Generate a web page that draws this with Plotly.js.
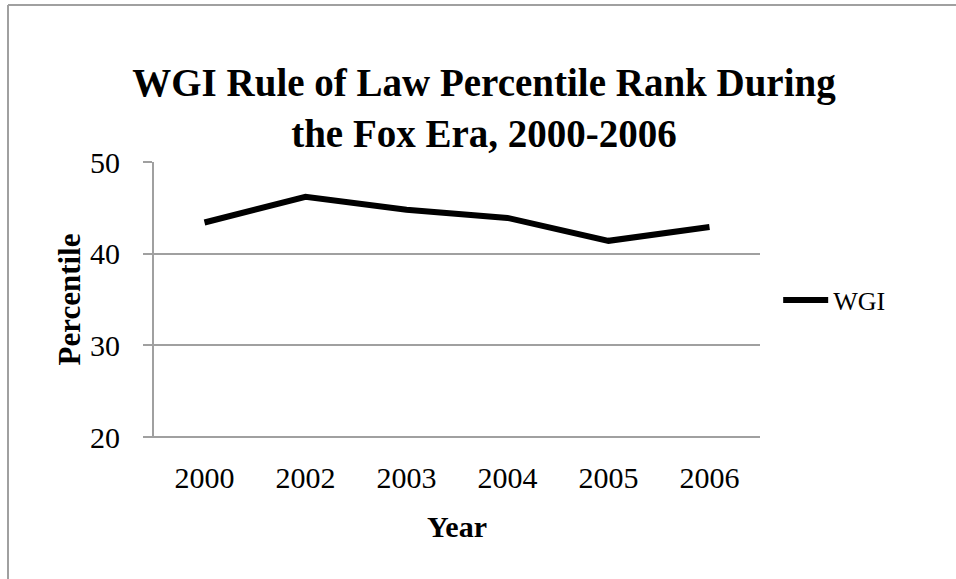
<!DOCTYPE html>
<html>
<head>
<meta charset="utf-8">
<script src="https://cdn.plot.ly/plotly-3.0.1.min.js"></script>
<style>
  html, body { margin: 0; padding: 0; background: #fff; }
  #chart { width: 956px; height: 579px; }
</style>
</head>
<body>
<div id="chart"></div>
<script>
// Data
const years = ["2000", "2002", "2003", "2004", "2005", "2006"];
const wgiValues = [43.4, 46.2, 44.8, 43.9, 41.4, 42.9];
const seriesName = "WGI";
const yTicks = [20, 30, 40, 50];

const serif = "Liberation Serif";
const grey = "#a0a0a0";

const L = 154, R = 196, T = 162, B = 142;
const pw = 956 - L - R, ph = 579 - T - B;
const px = v => (v - L) / pw;
const py = v => (579 - B - v) / ph;

const trace = {
  x: years,
  y: wgiValues,
  type: "scatter",
  mode: "lines",
  name: seriesName,
  line: { color: "#000000", width: 6 }
};

const layout = {
  width: 956,
  height: 579,
  margin: { l: L, r: R, t: T, b: B, pad: 0 },
  paper_bgcolor: "#ffffff",
  plot_bgcolor: "#ffffff",
  font: { family: serif, color: "#000000", size: 26 },
  title: {
    text: "WGI Rule of Law Percentile Rank During<br>the Fox Era, 2000-2006",
    font: { family: serif, size: 39, color: "#000000", weight: "bold" },
    xref: "container", x: 484 / 956, xanchor: "center",
    yref: "container", y: 1 - 96 / 579, yanchor: "middle"
  },
  xaxis: {
    type: "category",
    range: [-0.5, 5.5],
    showgrid: false,
    zeroline: false,
    showline: false,
    ticks: "",
    tickfont: { family: serif, size: 30, color: "#000" },
    ticklabelstandoff: 20,
    title: { text: "Year", font: { family: serif, size: 30, color: "#000", weight: "bold" }, standoff: 22 },
    fixedrange: true
  },
  yaxis: {
    range: [20, 50],
    tickvals: yTicks,
    showgrid: true,
    gridcolor: grey,
    gridwidth: 2,
    zeroline: false,
    showline: true,
    linecolor: grey,
    linewidth: 2,
    ticks: "outside",
    ticklen: 9,
    tickwidth: 2,
    tickcolor: grey,
    tickfont: { family: serif, size: 30, color: "#000" },
    ticklabelstandoff: 17,
    title: { text: "Percentile", font: { family: serif, size: 31, color: "#000", weight: "bold" }, standoff: 0 },
    fixedrange: true
  },
  showlegend: true,
  legend: {
    x: 1.03, xanchor: "left",
    y: py(300), yanchor: "middle",
    font: { family: serif, size: 26, color: "#000" },
    bgcolor: "rgba(0,0,0,0)",
    itemwidth: 45
  },
  shapes: [
    { type: "line", xref: "paper", yref: "paper",
      x0: px(8), x1: px(8), y0: py(600), y1: py(5),
      line: { color: grey, width: 2 } },
    { type: "line", xref: "paper", yref: "paper",
      x0: px(8), x1: px(970), y0: py(5), y1: py(5),
      line: { color: grey, width: 2 } },
    { type: "line", xref: "paper", yref: "paper",
      x0: px(145), x1: 1, y0: 0, y1: 0,
      line: { color: grey, width: 2 }, layer: "below" }
  ]
};

Plotly.newPlot("chart", [trace], layout, { displayModeBar: false, staticPlot: true });
</script>
</body>
</html>
